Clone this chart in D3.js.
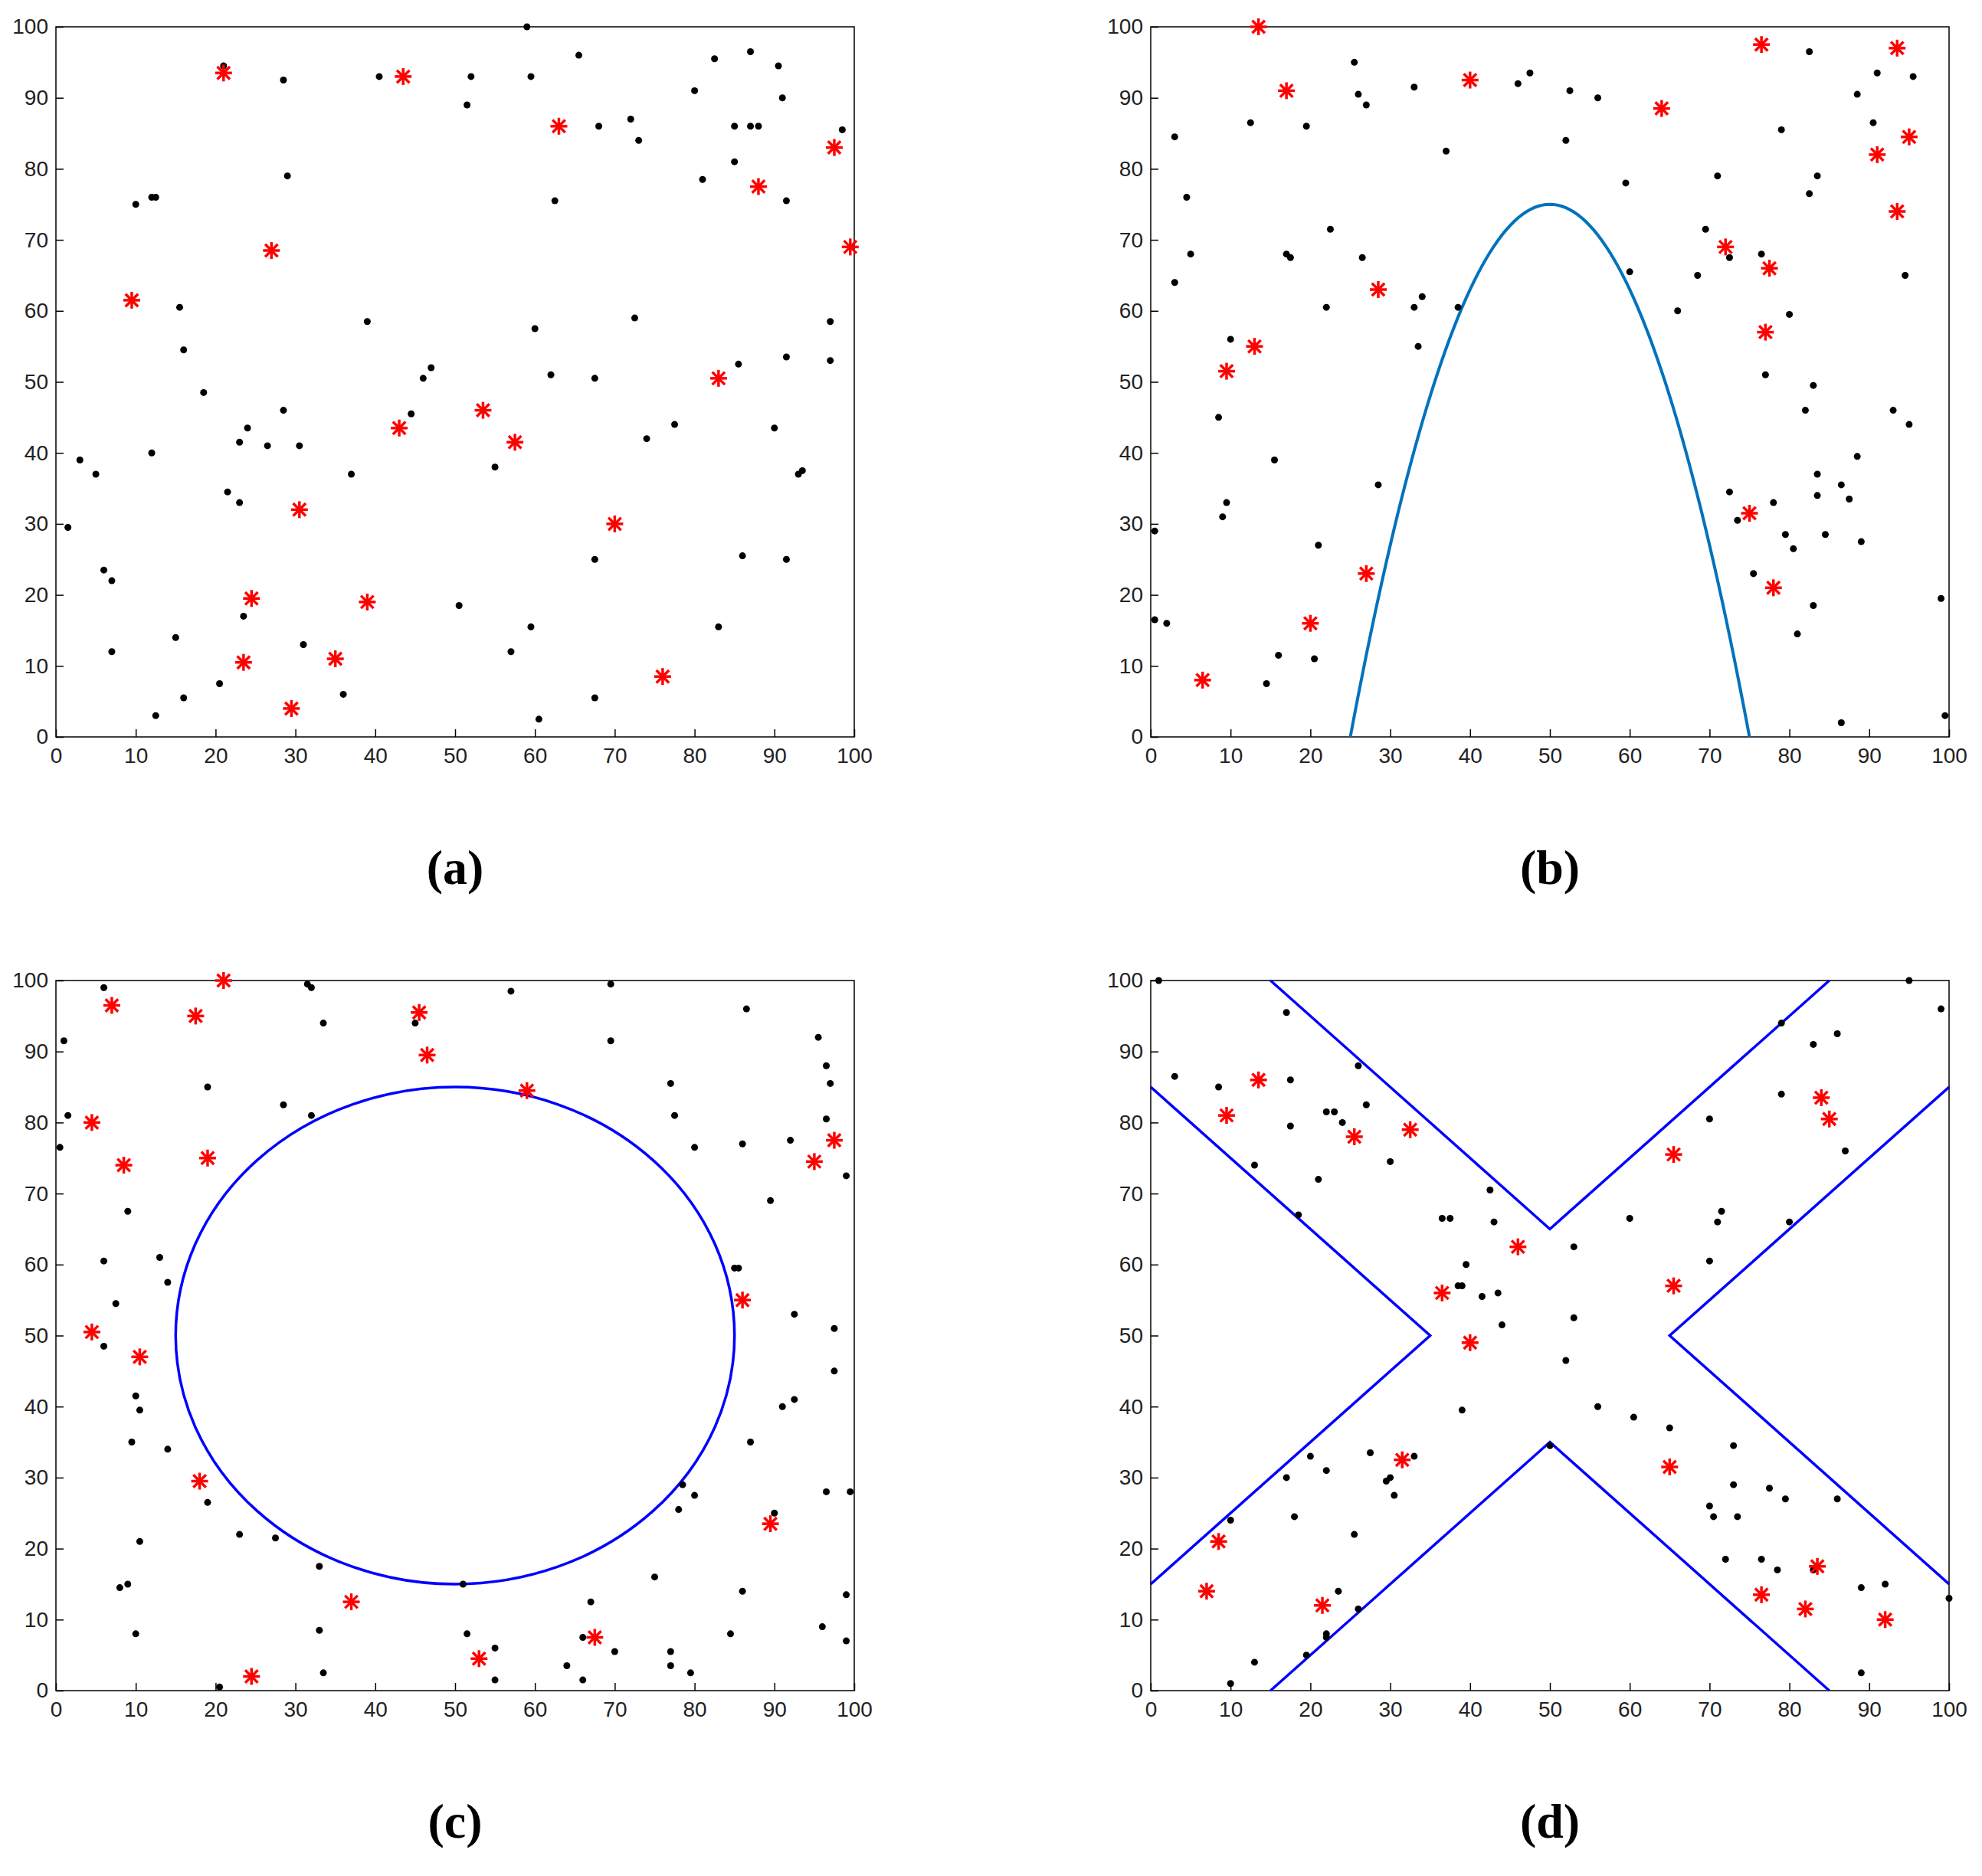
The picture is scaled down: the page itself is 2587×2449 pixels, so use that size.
<!DOCTYPE html><html><head><meta charset="utf-8"><script src="https://cdn.jsdelivr.net/npm/d3@7"></script>
<style>body{margin:0;background:#fff}</style></head><body><script>
const ticks=[0,10,20,30,40,50,60,70,80,90,100];
const panelLabels=["(a)","(b)","(c)","(d)"];
const aDots=[[1.5,29.5],[3,39],[5,37],[6,23.5],[7,22],[7,12],[10,75],[12,76],[12.5,76],[12,40],[12.5,3],[15,14],[15.5,60.5],[16,54.5],[16,5.5],[18.5,48.5],[20.5,7.5],[21,94.5],[21.5,34.5],[23,41.5],[23,33],[23.5,17],[24,43.5],[26.5,41],[28.5,46],[28.5,92.5],[29,79],[30.5,41],[31,13],[36,6],[37,37],[39,58.5],[40.5,93],[44.5,45.5],[46,50.5],[47,52],[50.5,18.5],[51.5,89],[52,93],[55,38],[57,12],[59,100],[59.5,93],[59.5,15.5],[60,57.5],[60.5,2.5],[62,51],[62.5,75.5],[65.5,96],[67.5,25],[67.5,50.5],[67.5,5.5],[68,86],[72,87],[72.5,59],[73,84],[74,42],[77.5,44],[80,91],[81,78.5],[82.5,95.5],[83,15.5],[85,86],[85,81],[85.5,52.5],[86,25.5],[87,96.5],[87,86],[88,86],[90,43.5],[90.5,94.5],[91,90],[91.5,75.5],[91.5,53.5],[91.5,25],[93,37],[93.5,37.5],[97,58.5],[97,53],[98.5,85.5]];
const aStars=[[21,93.5],[43.5,93],[9.5,61.5],[27,68.5],[63,86],[88,77.5],[97.5,83],[99.5,69],[83,50.5],[53.5,46],[57.5,41.5],[43,43.5],[30.5,32],[70,30],[24.5,19.5],[39,19],[23.5,10.5],[35,11],[29.5,4],[76,8.5]];
const bDots=[[0.5,29],[0.5,16.5],[2,16],[3,84.5],[3,64],[4.5,76],[5,68],[8.5,45],[9,31],[9.5,33],[10,56],[12.5,86.5],[14.5,7.5],[15.5,39],[16,11.5],[17,68],[17.5,67.5],[19.5,86],[20.5,11],[21,27],[22,60.5],[22.5,71.5],[25.5,95],[26,90.5],[26.5,67.5],[27,89],[28.5,35.5],[33,91.5],[33,60.5],[33.5,55],[34,62],[37,82.5],[38.5,60.5],[46,92],[47.5,93.5],[52,84],[52.5,91],[56,90],[59.5,78],[60,65.5],[66,60],[68.5,65],[69.5,71.5],[71,79],[72.5,67.5],[72.5,34.5],[73.5,30.5],[75.5,23],[76.5,68],[77,51],[77.5,66],[78,33],[79,85.5],[79.5,28.5],[80,59.5],[80.5,26.5],[81,14.5],[82,46],[82.5,96.5],[82.5,76.5],[83,49.5],[83,18.5],[83.5,34],[83.5,37],[83.5,79],[84.5,28.5],[86.5,35.5],[86.5,2],[87.5,33.5],[88.5,39.5],[88.5,90.5],[89,27.5],[90.5,86.5],[91,93.5],[93,46],[94.5,65],[95,44],[95.5,93],[99,19.5],[99.5,3]];
const bStars=[[13.5,100],[17,91],[40,92.5],[64,88.5],[76.5,97.5],[93.5,97],[91,82],[95,84.5],[93.5,74],[72,69],[77.5,66],[77,57],[28.5,63],[13,55],[9.5,51.5],[75,31.5],[78,21],[27,23],[20,16],[6.5,8]];
const cDots=[[0.5,76.5],[1,91.5],[1.5,81],[6,99],[6,60.5],[6,48.5],[7.5,54.5],[9,67.5],[8,14.5],[9,15],[9.5,35],[10,41.5],[10.5,39.5],[10.5,21],[10,8],[13,61],[14,57.5],[14,34],[19,85],[19,26.5],[20.5,0.5],[23,22],[27.5,21.5],[28.5,82.5],[31.5,99.5],[32,99],[32,81],[33,17.5],[33,8.5],[33.5,94],[33.5,2.5],[45,94],[51,15],[51.5,8],[55,6],[55,1.5],[57,98.5],[64,3.5],[66,1.5],[66,7.5],[67,12.5],[69.5,99.5],[69.5,91.5],[70,5.5],[75,16],[77,85.5],[77,5.5],[77,3.5],[77.5,81],[78,25.5],[78.5,29],[79.5,2.5],[80,27.5],[80,76.5],[84.5,8],[85,59.5],[85.5,59.5],[86,77],[86,14],[86.5,96],[87,35],[89.5,69],[90,25],[91,40],[92,77.5],[92.5,41],[92.5,53],[95.5,92],[96,9],[96.5,28],[96.5,88],[96.5,80.5],[97,85.5],[97.5,51],[97.5,45],[99,72.5],[99,13.5],[99,7],[99.5,28]];
const cStars=[[7,96.5],[17.5,95],[21,100],[45.5,95.5],[46.5,89.5],[59,84.5],[4.5,80],[8.5,74],[19,75],[95,74.5],[97.5,77.5],[86,55],[4.5,50.5],[10.5,47],[18,29.5],[89.5,23.5],[37,12.5],[67.5,7.5],[53,4.5],[24.5,2]];
const dDots=[[1,100],[3,86.5],[8.5,85],[10,1],[10,24],[13,74],[13,4],[17,95.5],[17,30],[17.5,86],[17.5,79.5],[18,24.5],[18.5,67],[19.5,5],[20,33],[21,72],[22,31],[22,81.5],[22,7.5],[22,8],[23,81.5],[23.5,14],[24,80],[25.5,22],[26,88],[26,11.5],[27,82.5],[27.5,33.5],[29.5,29.5],[30,30],[30,74.5],[30.5,27.5],[33,33],[36.5,66.5],[37.5,66.5],[38.5,57],[39,39.5],[39,57],[39.5,60],[41.5,55.5],[42.5,70.5],[43,66],[43.5,56],[44,51.5],[53,62.5],[53,52.5],[52,46.5],[50,34.5],[56,40],[60,66.5],[60.5,38.5],[65,37],[70,80.5],[70,26],[70,60.5],[70.5,24.5],[71,66],[71.5,67.5],[72,18.5],[73,34.5],[73,29],[73.5,24.5],[76.5,18.5],[77.5,28.5],[78.5,17],[79,94],[79,84],[79.5,27],[80,66],[83,91],[83,17],[86,92.5],[86,27],[87,76],[89,14.5],[89,2.5],[92,15],[95,100],[99,96],[100,13]];
const dStars=[[13.5,86],[9.5,81],[25.5,78],[32.5,79],[65.5,75.5],[84,83.5],[85,80.5],[46,62.5],[36.5,56],[40,49],[65.5,57],[31.5,32.5],[65,31.5],[8.5,21],[7,14],[21.5,12],[83.5,17.5],[76.5,13.5],[82,11.5],[92,10]];
const dLines=[[[15,100],[50,65],[85,100]],[[0,85],[35,50],[0,15]],[[15,0],[50,35],[85,0]],[[100,85],[65,50],[100,15]]];
const parabolaX=d3.range(25,75.01,0.5);

const W=2587,H=2449;
const svg=d3.select("body").append("svg").attr("width",W).attr("height",H);
const panels=[
 {l:73,t:35,dots:aDots,stars:aStars},
 {l:1502,t:35,dots:bDots,stars:bStars},
 {l:73,t:1280,dots:cDots,stars:cStars},
 {l:1502,t:1280,dots:dDots,stars:dStars}];
const PW=1042,PH=927;
panels.forEach((p,i)=>{
 const g=svg.append("g").attr("transform",`translate(${p.l},${p.t})`);
 const x=d3.scaleLinear().domain([0,100]).range([0,PW]);
 const y=d3.scaleLinear().domain([0,100]).range([PH,0]);
 g.append("rect").attr("width",PW).attr("height",PH).attr("fill","none").attr("stroke","#000").attr("stroke-width",1.5);
 const xa=g.append("g").attr("transform",`translate(0,${PH})`).call(d3.axisBottom(x).tickValues(ticks).tickSize(-10).tickPadding(14));
 const ya=g.append("g").call(d3.axisLeft(y).tickValues(ticks).tickSize(-10).tickPadding(10));
 [xa,ya].forEach(a=>{a.select(".domain").remove();a.selectAll("text").attr("font-family","Liberation Sans, Arial").attr("font-size",28).attr("fill","#222");a.selectAll("line").attr("stroke","#000").attr("stroke-width",1.5);});
 const line=d3.line().x(d=>x(d[0])).y(d=>y(d[1]));
 if(i===1) g.append("path").attr("d",line(parabolaX.map(v=>[v,75-0.12*(v-50)*(v-50)]))).attr("fill","none").attr("stroke","#0072BD").attr("stroke-width",4);
 if(i===2) g.append("ellipse").attr("cx",x(50)).attr("cy",y(50)).attr("rx",x(85)-x(50)).attr("ry",y(15)-y(50)).attr("fill","none").attr("stroke","#0000ff").attr("stroke-width",3.5);
 if(i===3) dLines.forEach(l=>g.append("path").attr("d",line(l)).attr("fill","none").attr("stroke","#0000ff").attr("stroke-width",3.5));
 g.selectAll(".dot").data(p.dots).enter().append("circle").attr("cx",d=>x(d[0])).attr("cy",d=>y(d[1])).attr("r",4.5).attr("fill","#000");
 const s=11;
 const st=g.selectAll(".st").data(p.stars).enter().append("g").attr("transform",d=>`translate(${x(d[0])},${y(d[1])})`);
 [[-s,0,s,0],[0,-s,0,s],[-s*0.75,-s*0.75,s*0.75,s*0.75],[-s*0.75,s*0.75,s*0.75,-s*0.75]].forEach(c=>st.append("line").attr("x1",c[0]).attr("y1",c[1]).attr("x2",c[2]).attr("y2",c[3]).attr("stroke","#ff0000").attr("stroke-width",3.5));
 svg.append("text").attr("x",p.l+PW/2).attr("y",p.t+PH+192).attr("text-anchor","middle").attr("font-family","Liberation Serif, Times New Roman").attr("font-size",64).attr("font-weight","bold").text(panelLabels[i]);
});
</script></body></html>
